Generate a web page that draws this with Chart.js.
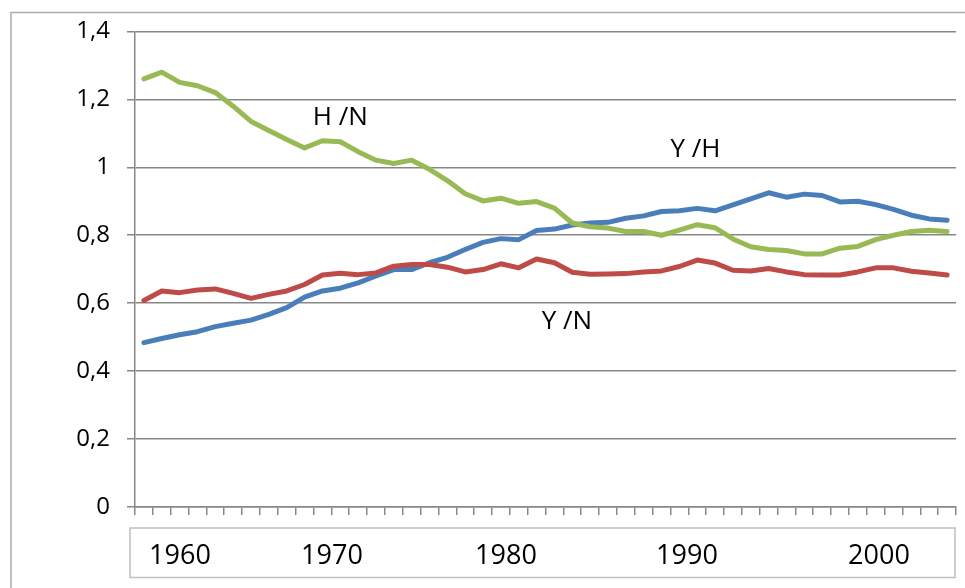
<!DOCTYPE html>
<html>
<head>
<meta charset="utf-8">
<title>Y/H, Y/N, H/N</title>
<script src="https://cdn.jsdelivr.net/npm/chart.js@4.4.1/dist/chart.umd.min.js"></script>
<style>
    html, body { margin: 0; padding: 0; background: #ffffff; }
    #wrap { position: relative; width: 965px; height: 588px; }
</style>
</head>
<body>
<div id="wrap"><canvas id="myChart"></canvas></div>
<script>
// ==========================================================
// 1. DATA (binasa mula sa larawan)
// ==========================================================
const years = [];
for (let y = 1958; y <= 2003; y++) years.push(String(y));

const yhValues = [
    0.484, 0.496, 0.507, 0.516, 0.531, 0.541, 0.550, 0.567, 0.587, 0.618,
    0.636, 0.644, 0.660, 0.680, 0.699, 0.699, 0.719, 0.735, 0.758, 0.779,
    0.790, 0.787, 0.814, 0.818, 0.830, 0.836, 0.838, 0.850, 0.857, 0.870,
    0.872, 0.879, 0.872, 0.889, 0.907, 0.925, 0.912, 0.921, 0.917, 0.898,
    0.900, 0.890, 0.876, 0.859, 0.848, 0.844
];

const ynValues = [
    0.608, 0.636, 0.631, 0.639, 0.642, 0.629, 0.614, 0.626, 0.636, 0.655,
    0.683, 0.688, 0.684, 0.689, 0.709, 0.714, 0.714, 0.706, 0.692, 0.699,
    0.716, 0.704, 0.730, 0.719, 0.691, 0.685, 0.686, 0.687, 0.692, 0.695,
    0.708, 0.727, 0.718, 0.697, 0.695, 0.702, 0.692, 0.684, 0.683, 0.683,
    0.692, 0.704, 0.704, 0.694, 0.689, 0.683
];

const hnValues = [
    1.260, 1.280, 1.250, 1.240, 1.220, 1.180, 1.135, 1.108, 1.082, 1.057,
    1.078, 1.075, 1.046, 1.021, 1.011, 1.021, 0.994, 0.961, 0.922, 0.901,
    0.909, 0.894, 0.899, 0.880, 0.836, 0.825, 0.821, 0.811, 0.811, 0.800,
    0.815, 0.831, 0.822, 0.789, 0.766, 0.758, 0.755, 0.745, 0.745, 0.762,
    0.767, 0.787, 0.800, 0.811, 0.815, 0.811
];

// Mga label ng taon sa kahon sa ibaba
const boxYears = ['1960', '1970', '1980', '1990', '2000'];

// Mga pangalan ng serye na nakasulat sa loob ng chart (index ng kategorya + halaga)
const seriesLabels = [
    { text: 'H /N', at: 11.0, value: 1.145 },
    { text: 'Y /H', at: 30.9, value: 1.052 },
    { text: 'Y /N', at: 23.7, value: 0.545 }
];

const FONT = "'Open Sans', 'DejaVu Sans', sans-serif";
const GRID = '#878787';

// ==========================================================
// 2. PLUGINS: panlabas na frame, kahon ng taon, mga label
// ==========================================================
const framePlugin = {
    id: 'frame',
    beforeDraw(chart) {
        const ctx = chart.ctx;
        ctx.save();
        ctx.strokeStyle = '#ababab';
        ctx.lineWidth = 1.5;
        ctx.strokeRect(11, 12.5, 980, 600);
        ctx.restore();
    }
};

const yearBoxPlugin = {
    id: 'yearBox',
    afterDraw(chart) {
        const ctx = chart.ctx;
        const area = chart.chartArea;
        // offset ng bawat taon mula sa kaliwa ng plot (text box sa orihinal)
        const offsets = [45, 197, 371, 552, 744];
        ctx.save();
        ctx.strokeStyle = '#bfbfbf';
        ctx.lineWidth = 1.5;
        ctx.strokeRect(area.left - 5, area.bottom + 21, area.right - area.left + 4, 49.5);
        ctx.fillStyle = '#000000';
        ctx.font = '27px ' + FONT;
        ctx.textAlign = 'center';
        ctx.textBaseline = 'middle';
        boxYears.forEach((label, i) => {
            ctx.fillText(label, area.left + offsets[i], area.bottom + 49);
        });
        ctx.restore();
    }
};

const seriesLabelPlugin = {
    id: 'seriesLabels',
    afterDatasetsDraw(chart) {
        const ctx = chart.ctx;
        const xs = chart.scales.x;
        const ys = chart.scales.y;
        ctx.save();
        ctx.fillStyle = '#000000';
        ctx.font = '26px ' + FONT;
        ctx.textAlign = 'center';
        ctx.textBaseline = 'middle';
        seriesLabels.forEach(l => {
            ctx.fillText(l.text, xs.getPixelForValue(l.at), ys.getPixelForValue(l.value));
        });
        ctx.restore();
    }
};

// ==========================================================
// 3. RENDER CHART
// ==========================================================
function lineSet(label, data, color) {
    return {
        label: label,
        data: data,
        borderColor: color,
        backgroundColor: color,
        borderWidth: 5,
        borderCapStyle: 'round',
        borderJoinStyle: 'round',
        pointRadius: 0,
        tension: 0,
        fill: false
    };
}

const ctx = document.getElementById('myChart').getContext('2d');

new Chart(ctx, {
    type: 'line',
    data: {
        labels: years,
        datasets: [
            lineSet('H/N', hnValues, '#98b954'),
            lineSet('Y/N', ynValues, '#be4b48'),
            lineSet('Y/H', yhValues, '#4a7ebb')
        ]
    },
    options: {
        responsive: true,
        maintainAspectRatio: false,
        animation: false,
        layout: { padding: { left: 0, top: 27, right: 9, bottom: 0 } },
        plugins: {
            legend: { display: false },
            tooltip: { enabled: false }
        },
        scales: {
            x: {
                type: 'category',
                offset: true,
                grid: {
                    offset: true,
                    drawOnChartArea: false,
                    drawTicks: true,
                    tickLength: 8,
                    color: GRID,
                    lineWidth: 1.5
                },
                border: { display: true, color: GRID, width: 1.5 },
                ticks: { display: false, autoSkip: false },
                afterFit(scale) { scale.height = 81; }
            },
            y: {
                min: 0,
                max: 1.4,
                grid: {
                    color: GRID,
                    lineWidth: 1.5,
                    drawTicks: true,
                    tickLength: 8
                },
                border: { display: true, color: GRID, width: 1.5 },
                ticks: {
                    stepSize: 0.2,
                    padding: 17,
                    color: '#000000',
                    font: { family: FONT, size: 24 },
                    callback: v => String(Math.round(v * 10) / 10).replace('.', ',')
                },
                afterFit(scale) { scale.width = 135; }
            }
        }
    },
    plugins: [framePlugin, yearBoxPlugin, seriesLabelPlugin]
});
</script>
</body>
</html>
